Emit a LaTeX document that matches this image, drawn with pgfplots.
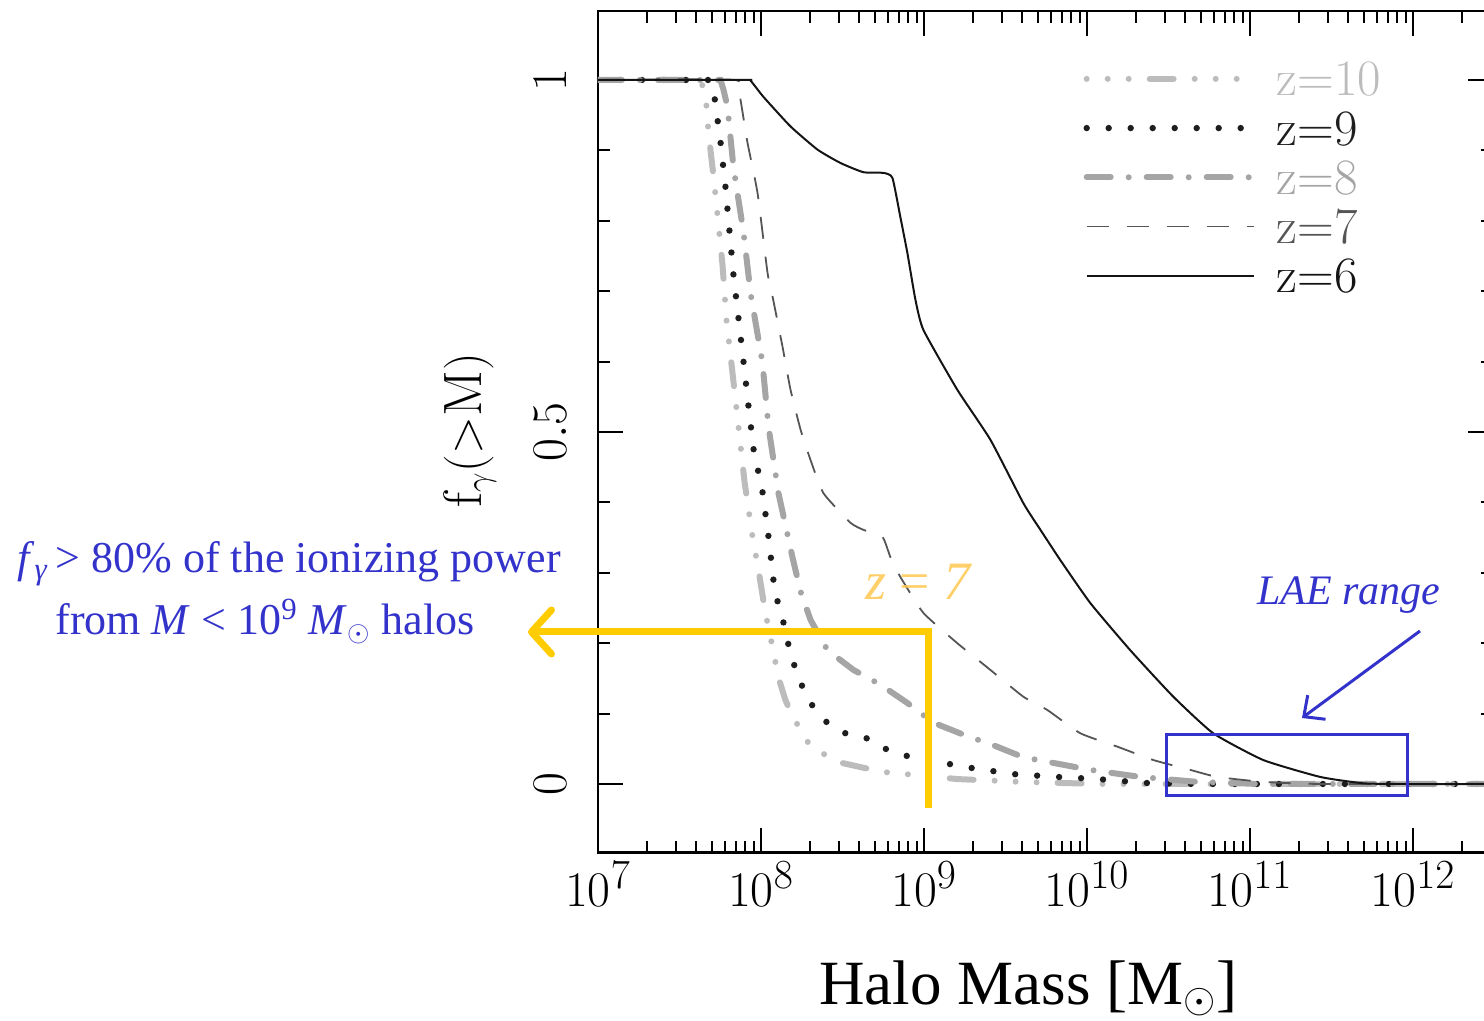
\documentclass[border=0pt]{standalone}
\usepackage{fontspec}
\newfontfamily\tnr{Liberation Serif}
\usepackage{pgfplots}
\pgfplotsset{compat=1.18}
\usetikzlibrary{arrows.meta}
\definecolor{c10}{RGB}{188,188,188}
\definecolor{c9}{RGB}{30,30,30}
\definecolor{c8}{RGB}{165,165,165}
\definecolor{c7}{RGB}{85,85,85}
\definecolor{c6}{RGB}{20,20,20}
\definecolor{myblue}{RGB}{51,51,204}
\definecolor{yel}{RGB}{255,204,0}
\definecolor{zor}{RGB}{255,200,80}

\pgfplotstableread{
lm f
7.000 1.000
7.629 1.000
7.660 0.979
7.678 0.925
7.709 0.862
7.727 0.822
7.764 0.737
7.788 0.659
7.825 0.584
7.862 0.507
7.899 0.429
7.948 0.351
7.985 0.303
8.027 0.243
8.070 0.195
8.107 0.151
8.150 0.119
8.199 0.094
8.304 0.053
8.475 0.031
8.610 0.024
8.751 0.017
8.935 0.013
9.204 0.007
9.591 0.003
10.08 0.000
12.49 0.000
}\zten

\pgfplotstableread{
lm f
7.000 1.000
7.687 1.000
7.717 0.972
7.752 0.911
7.782 0.848
7.807 0.784
7.831 0.723
7.862 0.661
7.893 0.599
7.923 0.537
7.954 0.476
8.009 0.415
8.046 0.351
8.077 0.288
8.101 0.260
8.138 0.229
8.169 0.197
8.205 0.168
8.254 0.138
8.316 0.111
8.402 0.088
8.518 0.072
8.647 0.065
8.763 0.050
8.892 0.040
9.020 0.034
9.284 0.023
9.548 0.014
9.818 0.010
10.063 0.007
10.388 0.001
10.69 0.000
12.49 0.000
}\znine

\pgfplotstableread{
lm f
7.000 1.000
7.751 1.000
7.770 0.986
7.794 0.962
7.831 0.876
7.893 0.783
7.936 0.697
8.009 0.598
8.046 0.507
8.107 0.413
8.193 0.322
8.243 0.273
8.304 0.233
8.408 0.190
8.567 0.162
8.733 0.141
8.898 0.115
9.058 0.087
9.242 0.070
9.426 0.055
9.609 0.038
10.020 0.020
10.327 0.010
10.676 0.003
11.06 0.000
12.49 0.000
}\zeight

\pgfplotstableread{
lm f
7.000 1.000
7.843 1.000
7.874 0.972
7.917 0.911
7.979 0.839
8.040 0.726
8.071 0.692
8.132 0.621
8.181 0.560
8.243 0.503
8.304 0.460
8.383 0.413
8.549 0.371
8.628 0.361
8.745 0.351
8.794 0.322
8.855 0.294
8.996 0.243
9.204 0.200
9.407 0.162
9.609 0.124
9.757 0.105
9.959 0.072
10.186 0.053
10.407 0.034
10.633 0.020
10.799 0.010
11.081 0.003
11.43 0.000
12.49 0.000
}\zseven

\pgfplotstableread{
lm f
7.000 1.000
7.905 1.000
7.936 0.999
8.015 0.976
8.181 0.934
8.347 0.901
8.488 0.882
8.628 0.869
8.751 0.868
8.806 0.861
8.855 0.805
8.898 0.754
8.947 0.688
8.996 0.645
9.204 0.560
9.407 0.489
9.609 0.399
9.714 0.361
9.836 0.318
10.020 0.257
10.265 0.190
10.529 0.124
10.774 0.072
11.081 0.034
11.430 0.010
11.694 0.001
11.92 0.000
12.49 0.000
}\zsix

\begin{document}
\begin{tikzpicture}
\useasboundingbox (-299pt,-84.15pt) rectangle (443pt,426.35pt);
\begin{axis}[
  at={(0pt,0pt)}, anchor=south west,
  scale only axis, width=447.5pt, height=420.85pt,
  xmin=7, xmax=12.49, ymin=-0.0976, ymax=1.098,
  xtick={7,8,9,10,11,12},
  xticklabels={$10^{7}$,$10^{8}$,$10^{9}$,$10^{10}$,$10^{11}$,$10^{12}$},
  minor xtick={7.30103,7.47712,7.60206,7.69897,7.77815,7.84510,7.90309,7.95424,
               8.30103,8.47712,8.60206,8.69897,8.77815,8.84510,8.90309,8.95424,
               9.30103,9.47712,9.60206,9.69897,9.77815,9.84510,9.90309,9.95424,
               10.30103,10.47712,10.60206,10.69897,10.77815,10.84510,10.90309,10.95424,
               11.30103,11.47712,11.60206,11.69897,11.77815,11.84510,11.90309,11.95424,
               12.30103,12.47712},
  ytick={0,0.5,1},
  minor ytick={0.1,0.2,0.3,0.4,0.6,0.7,0.8,0.9},
  tick align=inside,
  major tick length=12.5pt, minor tick length=6pt,
  tick style={black, line width=1pt},
  axis line style={black, line width=1.4pt},
  xticklabel style={font=\fontsize{29.5}{32}\selectfont},
  xticklabel shift=1pt,
  yticklabel style={font=\fontsize{28}{30}\selectfont, rotate=90, anchor=south},
  yticklabel shift=12pt,
  xlabel={Halo Mass [M$_\odot$]},
  xlabel style={at={(axis description cs:0.2469,-0.1809)}, anchor=base west, inner sep=0pt, font=\tnr\fontsize{31.5}{32}\selectfont},
  ylabel={$\mathrm{f}_\gamma({>}\mathrm{M})$},
  ylabel style={at={(axis description cs:-0.143,0.502)}, anchor=center, font=\fontsize{27}{30}\selectfont},
  legend style={at={(axis description cs:0.542,0.940)}, anchor=north west, draw=none, fill=none,
     inner sep=0pt, row sep=7.6pt, column sep=10pt, font=\fontsize{25.5}{25.5}\selectfont,
     nodes={inner sep=0pt, text height=17pt, text depth=0pt}},
  legend cell align=left,
  legend image code/.code={\draw[#1] (0pt,0pt) -- (83.5pt,0pt);},
]
\addplot[c10, line width=3pt, line cap=round, dash pattern=on 0pt off 10.5pt on 0pt off 10.5pt on 0pt off 10.5pt on 12pt off 10.5pt] table[x=lm,y=f] {\zten};
\addlegendentry{\textcolor{c10}{z=10}}
\addplot[c9, line width=3.2pt, line cap=round, dash pattern=on 0pt off 11pt] table[x=lm,y=f] {\znine};
\addlegendentry{\textcolor{c9}{z=9}}
\addplot[c8, line width=3pt, line cap=round, dash pattern=on 12pt off 9pt on 0pt off 9pt] table[x=lm,y=f] {\zeight};
\addlegendentry{\textcolor{c8}{z=8}}
\addplot[c7, line width=0.9pt, smooth, tension=0.3, dash pattern=on 11pt off 9pt] table[x=lm,y=f] {\zseven};
\addlegendentry{\textcolor{c7}{z=7}}
\addplot[c6, line width=1pt, smooth, tension=0.3] table[x=lm,y=f] {\zsix};
\addlegendentry{\textcolor{c6}{z=6}}
\draw[myblue, line width=1.5pt] (axis cs:10.486,0.0696) rectangle (axis cs:11.964,-0.017);
\end{axis}
\draw[yel, line width=3.5pt, -{Straight Barb[length=10pt,width=22pt,round]}] (165pt,22.35pt) -- (165pt,110.35pt) -- (-35pt,110.35pt);
\draw[myblue, line width=1.5pt, -{Straight Barb[length=8pt,width=15pt]}] (411pt,110.85pt) -- (352pt,67.35pt);
\node[anchor=base west, inner sep=0pt, text=myblue, font=\tnr\fontsize{22}{22}\selectfont] at (-290.5pt,139.85pt) {\textit{f}\textsubscript{\textit{γ}}\,> 80\% of the ionizing power};
\node[anchor=base west, inner sep=0pt, text=myblue, font=\tnr\fontsize{22}{22}\selectfont] at (-271.5pt,108.85pt) {from \textit{M} < 10\textsuperscript{9} \textit{M}\textsubscript{$\odot$} halos};
\node[anchor=base west, inner sep=0pt, text=zor, text opacity=0.85, font=\tnr\fontsize{27}{27}\selectfont] at (133.5pt,126.35pt) {\textit{z} = \textit{7}};
\node[anchor=base west, inner sep=0pt, text=myblue, font=\tnr\fontsize{21}{21}\selectfont] at (329.5pt,123.85pt) {\textit{LAE range}};
\end{tikzpicture}
\end{document}
